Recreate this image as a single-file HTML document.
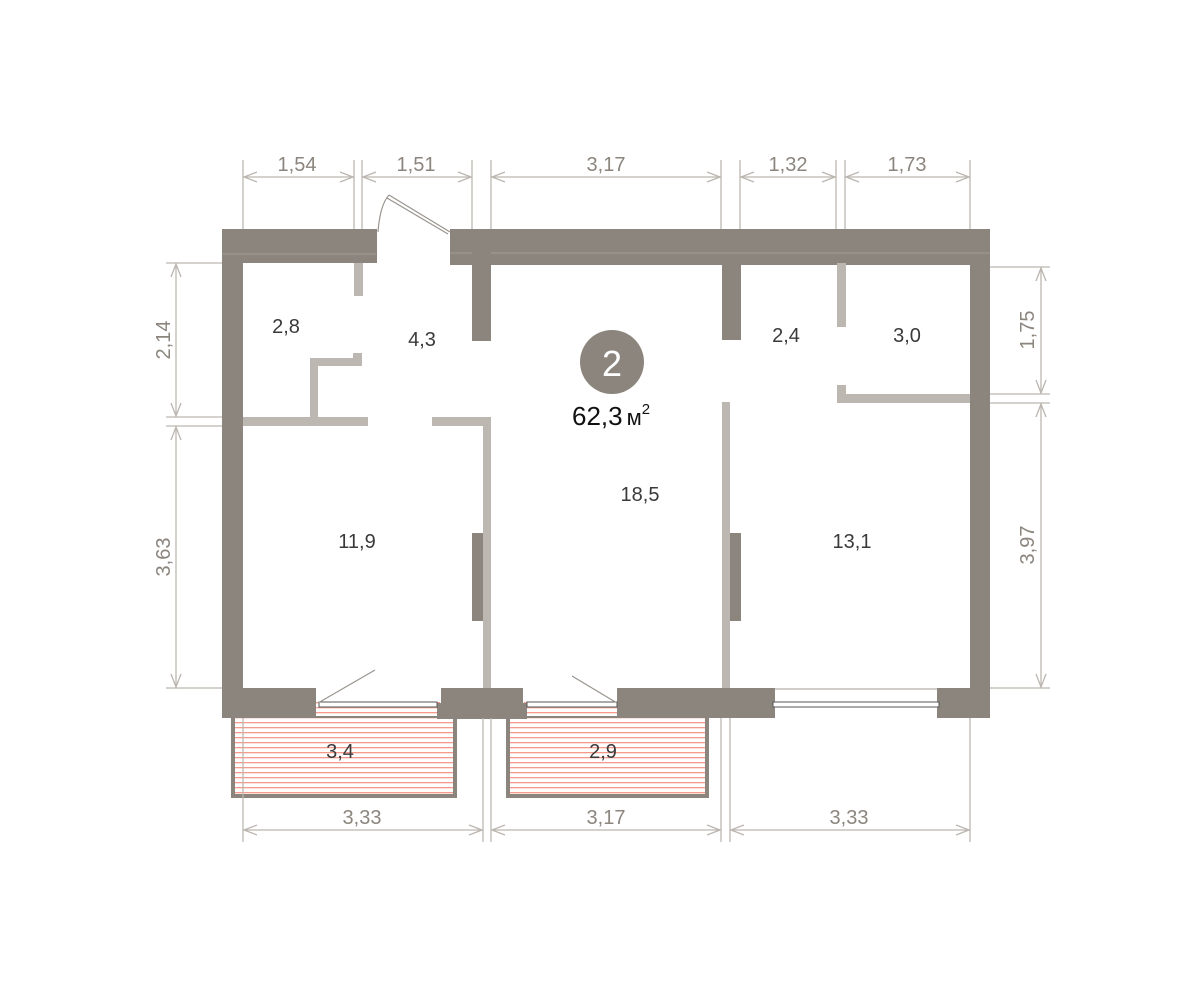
<!DOCTYPE html>
<html><head><meta charset="utf-8"><style>
html,body{margin:0;padding:0;background:#fff;width:1200px;height:992px;overflow:hidden}
svg{display:block}
.d{fill:#8c857e}
.l{fill:#bdb7b1}
.dim{stroke:#bcb6b0;stroke-width:1.3;fill:none}
.dt{font-family:"Liberation Sans",sans-serif;font-size:20px;fill:#8c857e;text-anchor:middle}
.rt{font-family:"Liberation Sans",sans-serif;font-size:20px;fill:#3a3a3a;text-anchor:middle}
</style></head><body>
<svg width="1200" height="992" viewBox="0 0 1200 992" xmlns="http://www.w3.org/2000/svg">
<defs>
<pattern id="h" width="8" height="5" patternUnits="userSpaceOnUse">
<rect width="8" height="5" fill="#fff"/><rect y="2" width="8" height="1.3" fill="#f59a8c"/>
</pattern>
</defs>
<rect x="233" y="716" width="222" height="80" fill="url(#h)" stroke="#8c857e" stroke-width="4"/>
<rect x="508" y="716" width="199" height="80" fill="url(#h)" stroke="#8c857e" stroke-width="4"/>
<rect x="316" y="700" width="124" height="16" fill="url(#h)"/>
<rect x="524" y="700" width="96" height="16" fill="url(#h)"/>
<rect class="d" x="222" y="229" width="155" height="34"/>
<rect class="d" x="450" y="229" width="540" height="36"/>
<rect class="d" x="222" y="229" width="21" height="489"/>
<rect class="d" x="970" y="229" width="20" height="489"/>
<rect class="d" x="222" y="688" width="94" height="30"/>
<rect class="d" x="441" y="688" width="82" height="30"/>
<rect class="d" x="437" y="703" width="90" height="16"/>
<rect class="d" x="617" y="688" width="158" height="30"/>
<rect class="d" x="937" y="688" width="53" height="30"/>
<line x1="775" y1="689" x2="937" y2="689" stroke="#a39d97" stroke-width="1"/>
<rect x="319" y="702" width="118" height="5" fill="#fff" stroke="#555" stroke-width="1"/>
<rect x="527" y="702" width="90" height="5" fill="#fff" stroke="#555" stroke-width="1"/>
<rect x="773" y="702" width="166" height="5" fill="#fff" stroke="#555" stroke-width="1"/>
<g stroke="#a39d97" stroke-width="1">
<line x1="222" y1="254" x2="376" y2="254"/><line x1="450" y1="253" x2="990" y2="253"/>
</g>
<rect class="d" x="472" y="229" width="19" height="112"/>
<rect class="d" x="722" y="263" width="19" height="77"/>
<rect class="d" x="472" y="533" width="19" height="88"/>
<rect class="d" x="722" y="533" width="19" height="88"/>
<rect class="l" x="354" y="263" width="9" height="33"/>
<rect class="l" x="310" y="358" width="52" height="8"/>
<rect class="l" x="353" y="353" width="9" height="13"/>
<rect class="l" x="310" y="358" width="8" height="60"/>
<rect class="l" x="243" y="417" width="125" height="9"/>
<rect class="l" x="432" y="417" width="59" height="9"/>
<rect class="l" x="483" y="417" width="8" height="271"/>
<rect class="l" x="722" y="402" width="8" height="286"/>
<rect class="l" x="837" y="263" width="9" height="64"/>
<rect class="l" x="837" y="385" width="9" height="18"/>
<rect class="l" x="837" y="394" width="133" height="9"/>
<g stroke="#9a948e" stroke-width="1.2" fill="none">
<path d="M378 232 Q380 205 389 195"/>
<line x1="389" y1="195" x2="450" y2="232"/><line x1="387" y1="198" x2="448" y2="234"/>
<line x1="318" y1="703" x2="375" y2="670"/>
<line x1="617" y1="703" x2="572" y2="676"/>
</g>
<g class="dim">
<line x1="243" y1="160" x2="243" y2="229"/><line x1="354" y1="160" x2="354" y2="229"/>
<line x1="362" y1="160" x2="362" y2="229"/><line x1="472" y1="160" x2="472" y2="229"/>
<line x1="491" y1="160" x2="491" y2="229"/><line x1="721" y1="160" x2="721" y2="229"/>
<line x1="740" y1="160" x2="740" y2="229"/><line x1="836" y1="160" x2="836" y2="229"/>
<line x1="845" y1="160" x2="845" y2="229"/><line x1="970" y1="160" x2="970" y2="229"/>
<line x1="243" y1="177" x2="354" y2="177"/><line x1="362" y1="177" x2="472" y2="177"/>
<line x1="491" y1="177" x2="721" y2="177"/><line x1="740" y1="177" x2="836" y2="177"/>
<line x1="845" y1="177" x2="970" y2="177"/>
<path d="M257 172 L244 177 L257 182 M340 172 L353 177 L340 182 M376 172 L363 177 L376 182 M458 172 L471 177 L458 182 M505 172 L492 177 L505 182 M707 172 L720 177 L707 182 M754 172 L741 177 L754 182 M822 172 L835 177 L822 182 M859 172 L846 177 L859 182 M956 172 L969 177 L956 182"/>
<line x1="243" y1="718" x2="243" y2="842"/><line x1="483" y1="718" x2="483" y2="842"/>
<line x1="491" y1="718" x2="491" y2="842"/><line x1="721" y1="718" x2="721" y2="842"/>
<line x1="730" y1="718" x2="730" y2="842"/><line x1="970" y1="718" x2="970" y2="842"/>
<line x1="243" y1="830" x2="483" y2="830"/><line x1="491" y1="830" x2="721" y2="830"/><line x1="730" y1="830" x2="970" y2="830"/>
<path d="M257 825 L244 830 L257 835 M469 825 L482 830 L469 835 M505 825 L492 830 L505 835 M707 825 L720 830 L707 835 M744 825 L731 830 L744 835 M956 825 L969 830 L956 835"/>
<line x1="166" y1="263" x2="222" y2="263"/><line x1="166" y1="417" x2="222" y2="417"/>
<line x1="166" y1="426" x2="222" y2="426"/><line x1="166" y1="688" x2="222" y2="688"/>
<line x1="176" y1="263" x2="176" y2="417"/><line x1="176" y1="426" x2="176" y2="688"/>
<path d="M171 277 L176 264 L181 277 M171 403 L176 416 L181 403 M171 440 L176 427 L181 440 M171 674 L176 687 L181 674"/>
<line x1="990" y1="267" x2="1050" y2="267"/><line x1="990" y1="394" x2="1050" y2="394"/>
<line x1="990" y1="403" x2="1050" y2="403"/><line x1="990" y1="688" x2="1050" y2="688"/>
<line x1="1041" y1="267" x2="1041" y2="394"/><line x1="1041" y1="403" x2="1041" y2="688"/>
<path d="M1036 281 L1041 268 L1046 281 M1036 380 L1041 393 L1046 380 M1036 417 L1041 404 L1046 417 M1036 674 L1041 687 L1046 674"/>
</g>
<g class="dt">
<text x="297" y="171">1,54</text><text x="416" y="171">1,51</text><text x="606" y="171">3,17</text>
<text x="788" y="171">1,32</text><text x="907" y="171">1,73</text>
<text x="362" y="824">3,33</text><text x="606" y="824">3,17</text><text x="849" y="824">3,33</text>
<text transform="translate(170,340) rotate(-90)">2,14</text>
<text transform="translate(170,557) rotate(-90)">3,63</text>
<text transform="translate(1034,330) rotate(-90)">1,75</text>
<text transform="translate(1034,545) rotate(-90)">3,97</text>
</g>
<g class="rt">
<text x="286" y="333">2,8</text><text x="422" y="346">4,3</text>
<text x="786" y="342">2,4</text><text x="907" y="342">3,0</text>
<text x="640" y="501">18,5</text><text x="357" y="548">11,9</text><text x="852" y="548">13,1</text>
<text x="340" y="758">3,4</text><text x="603" y="758">2,9</text>
</g>
<circle cx="612" cy="362" r="32" fill="#8c857e"/>
<text x="612" y="376" font-family="Liberation Sans,sans-serif" font-size="36" fill="#fff" text-anchor="middle">2</text>
<text x="572" y="425" font-family="Liberation Sans,sans-serif" font-size="26" fill="#111">62,3<tspan font-size="22" dx="4">м</tspan><tspan font-size="15" dy="-11">2</tspan></text>
</svg>
</body></html>
